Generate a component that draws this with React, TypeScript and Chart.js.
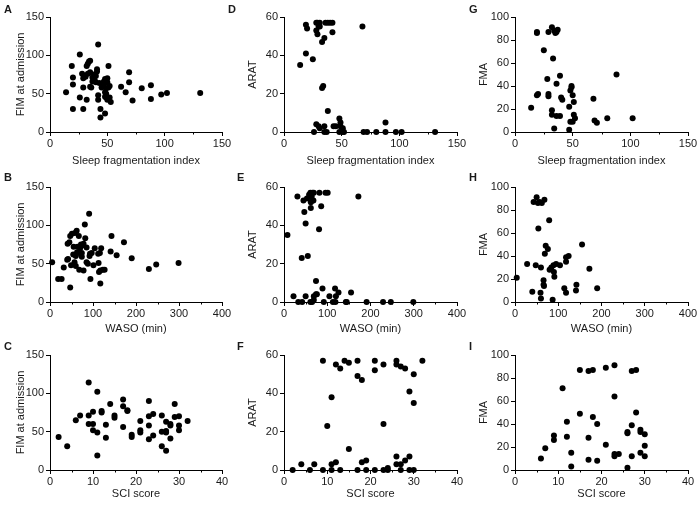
import React, { useEffect, useRef } from "react";
import { Chart, registerables } from "chart.js";

Chart.register(...registerables);

const FONT_FAMILY = "'Liberation Sans', Arial, Helvetica, sans-serif";
const TEXT_COLOR = "#1a1a1a";

// ---------- Panel A: Sleep fragmentation index vs FIM at admission ----------
const aX = [14, 19, 20, 20, 20, 26, 26, 28, 29, 29, 29, 31, 32, 32, 33, 33, 34, 35, 35, 35, 36, 37, 37, 38, 38, 39, 40, 40, 41, 41, 42, 42, 42, 43, 44, 44, 45, 47, 47, 48, 48, 48, 48, 49, 49, 49, 50, 50, 50, 51, 51, 52, 52, 53, 62, 66, 69, 69, 72, 80, 88, 88, 97, 102, 131];
const aY = [52, 86, 71, 62, 30, 101, 45, 76, 70, 58, 30, 72, 86, 42, 89, 76, 92, 93, 59, 78, 58, 66, 71, 75, 70, 67, 73, 65, 82, 79, 42, 48, 114, 64, 19, 30, 58, 66, 63, 69, 24, 46, 52, 57, 50, 45, 42, 70, 65, 58, 86, 45, 60, 39, 59, 52, 78, 65, 41, 57, 61, 43, 49, 51, 51];

// ---------- Panel B: WASO vs FIM at admission ----------
const bX = [5, 19, 27, 32, 40, 41, 45, 42, 47, 47, 51, 49, 54, 55, 58, 62, 57, 60, 60, 63, 64, 67, 68, 70, 72, 72, 74, 74, 76, 78, 78, 81, 82, 85, 85, 88, 91, 92, 93, 94, 97, 101, 104, 112, 113, 114, 117, 116, 117, 119, 123, 127, 143, 141, 155, 172, 190, 230, 247, 299];
const bY = [52, 30, 30, 45, 55, 76, 78, 56, 19, 86, 89, 48, 62, 72, 90, 93, 52, 47, 60, 65, 72, 86, 42, 70, 75, 62, 64, 59, 74, 76, 41, 101, 83, 71, 52, 50, 115, 60, 63, 30, 64, 48, 70, 63, 51, 39, 41, 64, 24, 70, 42, 42, 86, 66, 61, 78, 57, 43, 49, 51];

// ---------- Panel C: SCI score vs FIM at admission ----------
const cX = [2, 4, 6, 7, 9, 9, 9, 10, 10, 10, 11, 11, 11, 12, 12, 13, 13, 14, 15, 15, 17, 17, 17, 18, 18, 19, 19, 21, 21, 21, 23, 23, 23, 23, 24, 24, 26, 26, 26, 27, 27, 27, 27, 28, 28, 28, 29, 29, 30, 30, 30, 32];
const cY = [43, 31, 65, 71, 114, 71, 60, 60, 76, 52, 102, 49, 19, 77, 75, 59, 42, 86, 71, 68, 92, 83, 56, 78, 77, 46, 43, 64, 49, 52, 90, 70, 58, 40, 73, 45, 71, 50, 31, 63, 51, 49, 25, 60, 58, 41, 86, 69, 70, 58, 52, 64];

// ---------- Panel D: Sleep fragmentation index vs ARAT ----------
const dX = [14, 19, 19, 20, 25, 28, 28, 29, 29, 31, 30, 31, 33, 33, 34, 35, 36, 38, 40, 42, 42, 38, 28, 30, 31, 35, 26, 35, 37, 43, 45, 48, 49, 49, 51, 48, 51, 52, 68, 69, 72, 80, 88, 88, 97, 102, 131];
const dY = [35, 41, 56, 54, 38, 57, 53, 51, 57, 57, 55, 55, 47, 23, 24, 49, 57, 57, 57, 57, 52, 11, 4, 3, 2, 3, 0, 0, 0, 3, 3, 7, 5, 3, 2, 0, 0, 0, 55, 0, 0, 0, 0, 5, 0, 0, 0];

// ---------- Panel E: WASO vs ARAT ----------
const eX = [8, 22, 31, 33, 42, 41, 45, 47, 50, 50, 55, 53, 58, 60, 61, 64, 62, 65, 62, 61, 65, 69, 69, 74, 66, 69, 68, 74, 76, 81, 82, 86, 89, 92, 96, 101, 105, 113, 119, 118, 120, 126, 143, 145, 155, 172, 191, 229, 247, 299];
const eY = [35, 3, 55, 0, 0, 23, 53, 47, 41, 3, 24, 54, 56, 55, 57, 55, 52, 53, 49, 0, 0, 1, 3, 4, 57, 57, 53, 11, 4, 38, 57, 50, 7, 0, 57, 57, 3, 0, 0, 7, 3, 5, 0, 0, 5, 55, 0, 0, 0, 0];

// ---------- Panel F: SCI score vs ARAT ----------
const fX = [2, 4, 6, 7, 9, 9, 10, 11, 11, 11, 12, 12, 13, 13, 14, 15, 15, 17, 17, 17, 18, 18, 19, 19, 21, 21, 21, 23, 23, 23, 24, 24, 26, 26, 26, 26, 27, 27, 27, 28, 28, 29, 29, 29, 30, 30, 30, 32];
const fY = [0, 3, 0, 3, 57, 0, 23, 38, 3, 0, 55, 4, 53, 0, 57, 56, 11, 57, 49, 0, 47, 4, 5, 0, 57, 52, 0, 55, 24, 0, 1, 0, 57, 55, 7, 3, 54, 3, 0, 53, 5, 41, 7, 0, 50, 35, 0, 57];

// ---------- Panel G: Sleep fragmentation index vs FMA ----------
const gX = [14, 19, 19, 19, 20, 25, 28, 29, 29, 29, 32, 32, 32, 33, 34, 34, 35, 36, 37, 36, 36, 39, 39, 40, 41, 47, 47, 48, 49, 49, 48, 50, 50, 51, 51, 52, 68, 69, 71, 80, 88, 102];
const gY = [21, 87, 86, 32, 33, 71, 46, 87, 33, 31, 19, 15, 91, 64, 3, 88, 86, 42, 89, 87, 14, 14, 49, 30, 28, 22, 2, 36, 40, 39, 9, 32, 9, 26, 15, 12, 29, 10, 8, 12, 50, 12];

// ---------- Panel H: WASO vs FMA ----------
const hX = [4, 28, 40, 43, 48, 50, 53, 57, 62, 68, 54, 59, 60, 60, 66, 66, 67, 69, 71, 76, 79, 80, 84, 87, 89, 95, 90, 91, 104, 114, 118, 118, 118, 124, 141, 142, 155, 172, 190];
const hY = [21, 33, 9, 87, 32, 91, 86, 87, 86, 89, 64, 8, 30, 3, 19, 15, 14, 42, 49, 46, 71, 28, 30, 2, 32, 33, 26, 22, 32, 12, 8, 35, 39, 40, 10, 15, 50, 29, 12];

// ---------- Panel I: SCI score vs FMA ----------
const iX = [6, 7, 9, 9, 11, 12, 12, 13, 13, 15, 15, 17, 17, 17, 18, 18, 19, 19, 21, 21, 23, 23, 23, 23, 24, 26, 26, 26, 27, 27, 27, 28, 28, 29, 29, 29, 30, 30, 30];
const iY = [10, 19, 30, 26, 71, 42, 29, 15, 3, 87, 49, 86, 28, 9, 87, 46, 40, 8, 89, 22, 91, 64, 14, 12, 14, 33, 32, 2, 86, 39, 12, 87, 50, 35, 33, 15, 31, 21, 12];

// Axis settings
const xTitles = ["Sleep fragmentation index", "WASO (min)", "SCI score"];
const xMaxes = [150, 400, 40];
const xSteps = [50, 100, 10];
const xMinorTicks = [
  [25, 75, 125],
  [50, 150, 250, 350],
  [5, 15, 25, 35],
];
const yTitles = ["FIM at admission", "ARAT", "FMA"];
const yMaxes = [150, 60, 100];
const ySteps = [50, 20, 20];

const panelLetters = [
  ["A", "B", "C"],
  ["D", "E", "F"],
  ["G", "H", "I"],
];
const panelXs = [
  [aX, bX, cX],
  [dX, eX, fX],
  [gX, hX, iX],
];
const panelYs = [
  [aY, bY, cY],
  [dY, eY, fY],
  [gY, hY, iY],
];

// Layout (page pixels)
const CANVAS_W = 245;
const CANVAS_H = 169;
const COL_LEFT = [0, 233, 466];
const PLOT_LEFT = [50, 284, 515];
const PLOT_RIGHT = [222, 457, 688];
const ROW_TOP = [0, 169, 337];
const PLOT_TOP = [17, 187, 355];
const PLOT_BOTTOM = [132, 302, 470];
const XTITLE_CY = [161, 329, 494];
const YTITLE_CX = [21, 253, 484];
const LETTER_POS = [
  [[4, 9], [4, 177], [4, 346]],
  [[228, 9], [237, 177], [237, 346]],
  [[469, 9], [469, 177], [469, 346]],
];

const minorTickPlugin = {
  id: "minorTicks",
  afterDraw(chart: any, _args: any, opts: any) {
    const s = chart.scales.x;
    const ctx = chart.ctx;
    const bottom = chart.chartArea.bottom;
    ctx.save();
    ctx.strokeStyle = "#000";
    ctx.lineWidth = 1;
    (opts.values || []).forEach((v: number) => {
      const px = Math.round(s.getPixelForValue(v)) + 0.5;
      ctx.beginPath();
      ctx.moveTo(px, bottom);
      ctx.lineTo(px, bottom + 2.5);
      ctx.stroke();
    });
    ctx.restore();
  },
};

function Panel({ col, row }: { col: number; row: number }) {
  const ref = useRef<HTMLCanvasElement | null>(null);

  useEffect(() => {
    if (!ref.current) return;
    const xs = panelXs[col][row];
    const ys = panelYs[col][row];
    const points = xs.map((x, k) => ({ x, y: ys[k] }));
    const font = { family: FONT_FAMILY, size: 11 };
    const lh = 11 * 1.2;

    const yWidth = PLOT_LEFT[col] - COL_LEFT[col];
    const padRight = CANVAS_W - (PLOT_RIGHT[col] - COL_LEFT[col]);
    const padTop = PLOT_TOP[row] - ROW_TOP[row];
    const xHeight = CANVAS_H - (PLOT_BOTTOM[row] - ROW_TOP[row]);
    const xTitlePadBottom = Math.max(0, CANVAS_H - (XTITLE_CY[row] - ROW_TOP[row]) - lh / 2);
    const yTitlePadTop = YTITLE_CX[col] - COL_LEFT[col] - lh / 2;

    const chart = new Chart(ref.current, {
      type: "scatter",
      data: {
        datasets: [
          {
            data: points,
            backgroundColor: "#000",
            borderColor: "#000",
            borderWidth: 0,
            pointRadius: 3,
            pointHoverRadius: 3,
            clip: false as any,
          },
        ],
      },
      plugins: [minorTickPlugin as any],
      options: {
        responsive: false,
        animation: false,
        events: [],
        layout: { padding: { left: 0, top: padTop, right: padRight, bottom: 0 } },
        plugins: {
          legend: { display: false },
          tooltip: { enabled: false },
          minorTicks: { values: xMinorTicks[row] },
        } as any,
        scales: {
          x: {
            type: "linear",
            min: 0,
            max: xMaxes[row],
            ticks: {
              stepSize: xSteps[row],
              font,
              color: TEXT_COLOR,
              padding: 1,
              maxRotation: 0,
              autoSkip: false,
            },
            grid: {
              display: true,
              drawOnChartArea: false,
              drawTicks: true,
              tickLength: 4,
              tickColor: "#000",
              tickWidth: 1,
            },
            border: { display: true, color: "#000", width: 1 },
            title: {
              display: true,
              text: xTitles[row],
              font,
              color: TEXT_COLOR,
              padding: { top: 0, bottom: xTitlePadBottom },
            },
            afterFit: (s: any) => {
              s.height = xHeight;
            },
          },
          y: {
            type: "linear",
            min: 0,
            max: yMaxes[col],
            ticks: {
              stepSize: ySteps[col],
              font,
              color: TEXT_COLOR,
              padding: 2,
            },
            grid: {
              display: true,
              drawOnChartArea: false,
              drawTicks: true,
              tickLength: 4,
              tickColor: "#000",
              tickWidth: 1,
            },
            border: { display: true, color: "#000", width: 1 },
            title: {
              display: true,
              text: yTitles[col],
              font,
              color: TEXT_COLOR,
              padding: { top: yTitlePadTop, bottom: 0 },
            },
            afterFit: (s: any) => {
              s.width = yWidth;
            },
          },
        },
      } as any,
    });
    return () => chart.destroy();
  }, [col, row]);

  return (
    <canvas
      ref={ref}
      width={CANVAS_W}
      height={CANVAS_H}
      style={{
        position: "absolute",
        left: COL_LEFT[col],
        top: ROW_TOP[row],
        width: CANVAS_W,
        height: CANVAS_H,
      }}
    />
  );
}

export default function App() {
  const cells: React.ReactNode[] = [];
  for (let col = 0; col < 3; col++) {
    for (let row = 0; row < 3; row++) {
      cells.push(<Panel key={`p${col}${row}`} col={col} row={row} />);
      const [lx, ly] = LETTER_POS[col][row];
      cells.push(
        <div
          key={`l${col}${row}`}
          style={{
            position: "absolute",
            left: lx,
            top: ly - 6,
            fontFamily: FONT_FAMILY,
            fontWeight: "bold",
            fontSize: 11,
            lineHeight: "12px",
            color: TEXT_COLOR,
          }}
        >
          {panelLetters[col][row]}
        </div>
      );
    }
  }
  return (
    <div
      style={{
        position: "absolute",
        left: 0,
        top: 0,
        width: 700,
        height: 506,
        background: "#fff",
        overflow: "hidden",
      }}
    >
      {cells}
    </div>
  );
}
